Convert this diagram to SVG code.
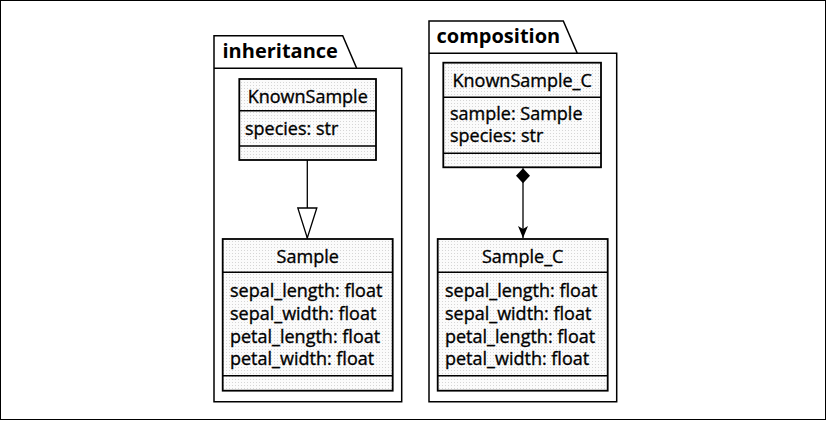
<svg xmlns="http://www.w3.org/2000/svg" width="827" height="421" viewBox="0 0 827 421">
<style>
.pkg{fill:#ffffff;stroke:#000;stroke-width:1.5}
.cls{fill:url(#dots);stroke:#000;stroke-width:1.8}
.div{stroke:#000;stroke-width:1.5;fill:none}
.title{font-family:"Open Sans","Liberation Sans",sans-serif;font-weight:bold;font-size:20px;fill:#000}
.name{font-family:"Open Sans","Liberation Sans",sans-serif;font-size:18px;fill:#000;stroke:#000;stroke-width:0.35;text-anchor:middle}
.attr{font-family:"Open Sans","Liberation Sans",sans-serif;font-size:18px;fill:#000;stroke:#000;stroke-width:0.35}
.edge{stroke:#000;stroke-width:1.3;fill:none}
</style>
<defs>
<pattern id="dots" width="3" height="3" patternUnits="userSpaceOnUse">
<rect width="3" height="3" fill="#fbfbfb"/>
<rect x="1" y="1" width="1" height="1" fill="#d6d6d6"/>
</pattern>
<marker id="tri" markerUnits="userSpaceOnUse" markerWidth="32" markerHeight="22" viewBox="-1 -11 32 22" refX="30" refY="0" orient="auto">
<path d="M0,-9.5 L30,0 L0,9.5 Z" fill="#fff" stroke="#000" stroke-width="1.3"/>
</marker>
<marker id="arr" markerUnits="userSpaceOnUse" markerWidth="13" markerHeight="12" viewBox="0 -6 13 12" refX="12" refY="0" orient="auto">
<path d="M0,-5 L12,0 L0,5 L3,0 Z" fill="#000"/>
</marker>
<marker id="dia" markerUnits="userSpaceOnUse" markerWidth="17" markerHeight="16" viewBox="-1 -8 17 16" refX="0" refY="0" orient="auto">
<path d="M0,0 L7.5,-7 L15,0 L7.5,7 Z" fill="#000"/>
</marker>
</defs>
<rect x="0.5" y="0.5" width="825" height="419" fill="#fff" stroke="#000" stroke-width="1"/>

<g id="pkg-inheritance">
<path class="pkg" d="M214,68.3 L214,35.7 L342.7,35.7 L356.7,68.3 L401.7,68.3 L401.7,401.7 L214,401.7 Z"/>
<line class="div" x1="214" y1="68.3" x2="356.7" y2="68.3"/>
<text class="title" x="222.5" y="58.3">inheritance</text>
</g>

<g id="pkg-composition">
<path class="pkg" d="M429,53.3 L429,21 L563.3,21 L577.3,53.3 L616.7,53.3 L616.7,401.7 L429,401.7 Z"/>
<line class="div" x1="429" y1="53.3" x2="577.3" y2="53.3"/>
<text class="title" x="436.5" y="43.3">composition</text>
</g>

<g id="KnownSample">
<rect class="cls" x="239.3" y="79" width="136.7" height="81"/>
<line class="div" x1="239.3" y1="110.7" x2="376" y2="110.7"/>
<line class="div" x1="239.3" y1="146" x2="376" y2="146"/>
<text class="name" x="307.7" y="103.3">KnownSample</text>
<text class="attr" x="245" y="135">species: str</text>
</g>

<g id="Sample">
<rect class="cls" x="222.7" y="239" width="170" height="151.7"/>
<line class="div" x1="222.7" y1="272.3" x2="392.7" y2="272.3"/>
<line class="div" x1="222.7" y1="375.7" x2="392.7" y2="375.7"/>
<text class="name" x="307.7" y="262.7">Sample</text>
<text class="attr" x="230" y="297.3">sepal_length: float</text>
<text class="attr" x="230" y="320">sepal_width: float</text>
<text class="attr" x="230" y="342.7">petal_length: float</text>
<text class="attr" x="230" y="365.3">petal_width: float</text>
</g>

<g id="KnownSample_C">
<rect class="cls" x="443.3" y="62.7" width="157.7" height="104.6"/>
<line class="div" x1="443.3" y1="97.3" x2="601" y2="97.3"/>
<line class="div" x1="443.3" y1="153.3" x2="601" y2="153.3"/>
<text class="name" x="522.2" y="86.7">KnownSample_C</text>
<text class="attr" x="450" y="120">sample: Sample</text>
<text class="attr" x="450" y="141.7">species: str</text>
</g>

<g id="Sample_C">
<rect class="cls" x="437.7" y="239" width="170" height="151.7"/>
<line class="div" x1="437.7" y1="272.3" x2="607.7" y2="272.3"/>
<line class="div" x1="437.7" y1="375.7" x2="607.7" y2="375.7"/>
<text class="name" x="522.7" y="262.7">Sample_C</text>
<text class="attr" x="445" y="297.3">sepal_length: float</text>
<text class="attr" x="445" y="320">sepal_width: float</text>
<text class="attr" x="445" y="342.7">petal_length: float</text>
<text class="attr" x="445" y="365.3">petal_width: float</text>
</g>

<g id="connectors">
<path class="edge" d="M307.3,160 L307.3,238" marker-end="url(#tri)"/>
<path class="edge" d="M523,168.3 L523,238" marker-start="url(#dia)" marker-end="url(#arr)"/>
</g>
</svg>
